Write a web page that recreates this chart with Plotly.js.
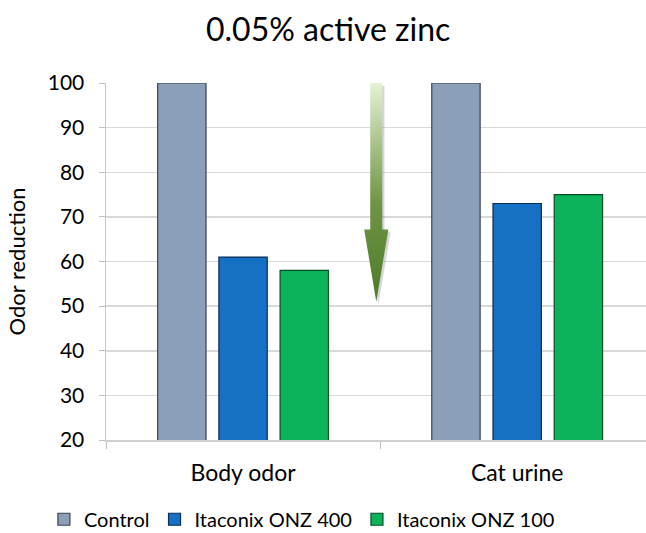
<!DOCTYPE html>
<html>
<head>
<meta charset="utf-8">
<script src="https://cdn.plot.ly/plotly-3.0.1.min.js"></script>
<style>html,body{margin:0;padding:0;background:#fff;}#chart{width:646px;height:533px;}</style>
</head>
<body>
<div id="chart"></div>
<script>
const categories = ["Body odor", "Cat urine"];
const seriesNames = ["Control", "Itaconix ONZ 400", "Itaconix ONZ 100"];
const controlValues = [100, 100];
const onz400Values = [61, 73];
const onz100Values = [58, 75];
const yTicks = [20, 30, 40, 50, 60, 70, 80, 90, 100];
// arrow annotation (data units: x position between groups, y from/to)
const arrowX = [0.486];
const arrowFromTo = [100, 51];

const FONT = "Lato, 'Open Sans', 'DejaVu Sans', sans-serif";
const fills = ["#8c9fb8", "#1670c4", "#0db35a"];
const edges = ["#3a4250", "#0b2d55", "#064d26"];
const values = [controlValues, onz400Values, onz100Values];

const traces = seriesNames.map((n, i) => ({
  type: "bar",
  name: n,
  x: categories,
  y: values[i],
  marker: { color: fills[i], line: { color: edges[i], width: 1.2 } },
  hoverinfo: "skip"
}));

// arrow polygon built from arrowX / arrowFromTo
const ax = arrowX[0], yTop = arrowFromTo[0], yTip = arrowFromTo[1];
const shaftHalf = 0.022, headHalf = 0.044;
const headStart = yTip + (yTop - yTip) * 0.33;
function arrowPoly(dx, dy) {
  return {
    x: [ax - shaftHalf, ax + shaftHalf, ax + shaftHalf, ax + headHalf, ax, ax - headHalf, ax - shaftHalf, ax - shaftHalf].map(v => v + dx),
    y: [yTop, yTop, headStart, headStart, yTip, headStart, headStart, yTop].map(v => v + dy)
  };
}
const sh = arrowPoly(0.008, -0.6);
traces.push({
  type: "scatter", mode: "lines", xaxis: "x2", yaxis: "y",
  x: sh.x, y: sh.y, fill: "toself", fillcolor: "rgba(120,120,120,0.3)",
  line: { width: 0 }, showlegend: false, hoverinfo: "skip"
});
const ap = arrowPoly(0, 0);
traces.push({
  type: "scatter", mode: "lines", xaxis: "x2", yaxis: "y",
  x: ap.x, y: ap.y, fill: "toself",
  fillgradient: { type: "vertical", colorscale: [[0, "#4f7a2a"], [0.45, "#6f9445"], [1, "#e4f2d4"]] },
  line: { width: 0 }, showlegend: false, hoverinfo: "skip"
});

const layout = {
  width: 646, height: 533,
  margin: { l: 106, r: 0, t: 83, b: 93, autoexpand: false },
  paper_bgcolor: "#ffffff", plot_bgcolor: "#ffffff",
  font: { family: FONT, color: "#000" },
  title: { text: "0.05% active zinc", font: { size: 32, family: FONT, color: "#000" }, x: 0.508, xanchor: "center", y: 0.945, yanchor: "middle" },
  barmode: "group",
  bargap: 0.33,
  bargroupgap: 0.21,
  xaxis: {
    type: "category", range: [-0.5, 1.47], automargin: false,
    tickson: "boundaries", ticks: "outside", ticklen: 7, tickcolor: "#bfbfbf",
    showline: true, linecolor: "#d0d0d0", linewidth: 1.5,
    tickfont: { size: 23, family: FONT }, ticklabelstandoff: 12,
    showgrid: false, zeroline: false,
    fixedrange: true
  },
  xaxis2: { overlaying: "x", range: [-0.5, 1.47], visible: false, fixedrange: true },
  yaxis: {
    range: [20, 100], tickvals: yTicks, ticks: "outside", ticklen: 6, tickcolor: "#bfbfbf",
    showline: true, linecolor: "#c8c8c8", linewidth: 1.5, automargin: false,
    showgrid: true, gridcolor: "#d9d9d9", gridwidth: 1.5, zeroline: false,
    tickfont: { size: 21, family: FONT }, ticklabelstandoff: 10,
    title: { text: "Odor reduction", font: { size: 22, family: FONT }, standoff: 16 },
    fixedrange: true
  },
  showlegend: true,
  legend: {
    orientation: "h", x: -0.115, xanchor: "left", y: -0.222, yanchor: "middle",
    font: { size: 20, family: FONT }, itemwidth: 30, traceorder: "normal",
    tracegroupgap: 0
  }
};

Plotly.newPlot("chart", traces, layout, { displayModeBar: false, staticPlot: true });
</script>
</body>
</html>
